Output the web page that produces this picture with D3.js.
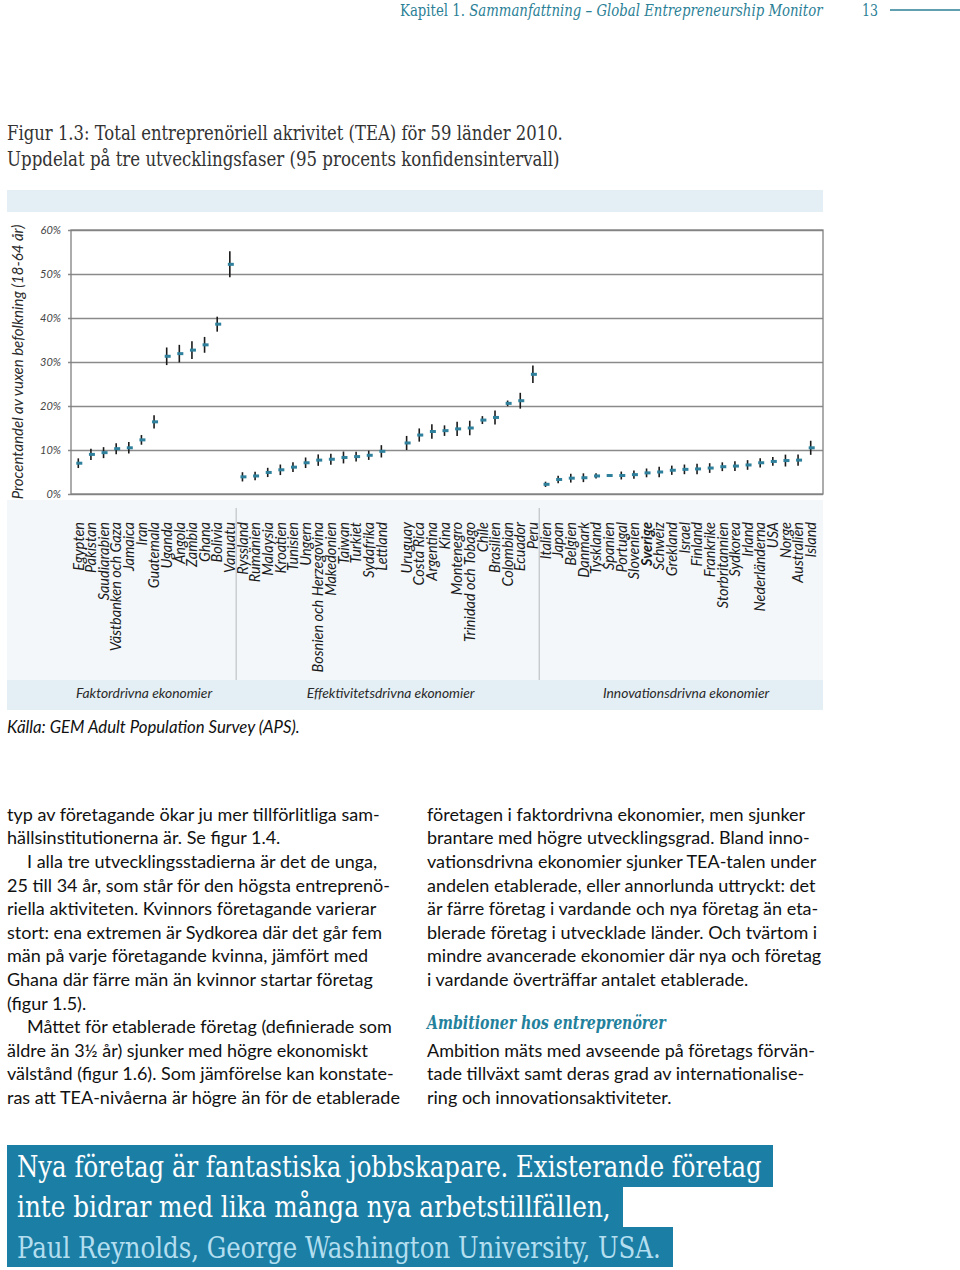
<!DOCTYPE html>
<html><head><meta charset="utf-8">
<script src="https://cdn.jsdelivr.net/npm/d3@7"></script>
<style>body{margin:0;background:#fff;} svg{display:block}</style>
</head><body>
<svg id="c" width="960" height="1270"></svg>
<script>
// ---------------- DATA ----------------
const countries = ["Egypten","Pakistan","Saudiarabien","Västbanken och Gaza","Jamaica","Iran","Guatemala","Uganda","Angola","Zambia","Ghana","Bolivia","Vanuatu",
"Ryssland","Rumänien","Malaysia","Kroatien","Tunisien","Ungern","Bosnien och Herzegovina","Makedonien","Taiwan","Turkiet","Sydafrika","Lettland","",
"Uruguay","Costa Rica","Argentina","Kina","Montenegro","Trinidad och Tobago","Chile","Brasilien","Colombian","Ecuador","Peru",
"Italien","Japan","Belgien","Danmark","Tyskland","Spanien","Portugal","Slovenien","Sverige","Schweiz","Grekland","Israel","Finland","Frankrike","Storbritannien","Sydkorea","Irland","Nederländerna","USA","Norge","Australien","Island"];
const teaValues = [7.0,9.0,9.4,10.3,10.5,12.3,16.4,31.3,31.9,32.7,33.9,38.6,52.2,
3.9,4.1,4.9,5.5,6.1,7.1,7.7,7.9,8.3,8.5,8.8,9.7,null,
11.6,13.4,14.2,14.4,14.8,15.0,16.8,17.4,20.6,21.2,27.2,
2.2,3.3,3.6,3.7,4.1,4.2,4.2,4.4,4.8,5.0,5.4,5.6,5.7,5.9,6.2,6.35,6.6,7.1,7.4,7.6,7.7,10.5];
const ciMargin = [1.1,1.3,1.25,1.25,1.3,1.1,1.5,2.0,2.0,2.0,1.8,1.7,2.95,
1.05,0.95,1.05,1.2,1.1,1.2,1.3,1.25,1.35,1.1,1.05,1.4,null,
1.6,1.5,1.65,1.2,1.6,1.65,0.9,1.6,0.65,1.8,2.0,
0.6,0.85,1.0,1.0,0.6,0.3,0.9,0.95,1.0,1.2,1.05,1.1,1.2,1.1,1.0,1.1,1.1,1.05,1.0,1.35,1.3,1.6];
const economyGroups = ["Faktordrivna ekonomier","Effektivitetsdrivna ekonomier","Innovationsdrivna ekonomier"];
const groupSizes = [13, 24, 22];
const yTicks = [0,10,20,30,40,50,60];
const highlighted = ["Sverige"];

const leftLines = [
 ["typ av företagande ökar ju mer tillförlitliga sam-",0],
 ["hällsinstitutionerna är. Se figur 1.4.",0],
 ["I alla tre utvecklingsstadierna är det de unga,",1],
 ["25 till 34 år, som står för den högsta entreprenö-",0],
 ["riella aktiviteten. Kvinnors företagande varierar",0],
 ["stort: ena extremen är Sydkorea där det går fem",0],
 ["män på varje företagande kvinna, jämfört med",0],
 ["Ghana där färre män än kvinnor startar företag",0],
 ["(figur 1.5).",0],
 ["Måttet för etablerade företag (definierade som",1],
 ["äldre än 3½ år) sjunker med högre ekonomiskt",0],
 ["välstånd (figur 1.6). Som jämförelse kan konstate-",0],
 ["ras att TEA-nivåerna är högre än för de etablerade",0]];
const rightLines1 = [
 "företagen i faktordrivna ekonomier, men sjunker",
 "brantare med högre utvecklingsgrad. Bland inno-",
 "vationsdrivna ekonomier sjunker TEA-talen under",
 "andelen etablerade, eller annorlunda uttryckt: det",
 "är färre företag i vardande och nya företag än eta-",
 "blerade företag i utvecklade länder. Och tvärtom i",
 "mindre avancerade ekonomier där nya och företag",
 "i vardande överträffar antalet etablerade."];
const rightLines2 = [
 "Ambition mäts med avseende på företags förvän-",
 "tade tillväxt samt deras grad av internationalise-",
 "ring och innovationsaktiviteter."];
const quoteLines = ["Nya företag är fantastiska jobbskapare. Existerande företag",
 "inte bidrar med lika många nya arbetstillfällen,",
 "Paul Reynolds, George Washington University, USA."];

// ---------------- SETUP ----------------
const svg = d3.select("#c");
const TEAL = "#2b7f96", BOX = "#1b7ea4";
const SLAB = "'DejaVu Serif Condensed','DejaVu Serif',serif";
const SANS = "Lato, 'Open Sans', sans-serif";

function measure(str, size, family, style, weight){
  const t = svg.append("text").attr("font-family",family).attr("font-size",size)
    .attr("font-style",style||"normal").attr("font-weight",weight||"normal").text(str);
  const w = t.node().getComputedTextLength(); t.remove(); return w;
}
function calib(strs, target, family, style, weight){
  let tot = 0; strs.forEach(s=> tot += measure(s,20,family,style,weight));
  return 20*target/tot;
}
function slab(x, y, size, width, color, parts){
  const g = svg.append("g");
  const t = g.append("text").attr("font-family",SLAB).attr("font-stretch","condensed")
    .attr("font-size",size).attr("fill",color);
  parts.forEach(p=> t.append("tspan").text(p[0]).attr("font-style",p[1]?"italic":"normal").attr("font-weight",p[2]?"bold":"normal"));
  const w = t.node().getComputedTextLength();
  g.attr("transform",`translate(${x},${y}) scale(${width/w},1)`);
  return g;
}

// ---------------- HEADER ----------------
slab(400,16,16,423,TEAL,[["Kapitel 1. ",0],["Sammanfattning – Global Entrepreneurship Monitor",1]]);
slab(862,16,16,16,TEAL,[["13",0]]);
svg.append("line").attr("x1",890).attr("x2",960).attr("y1",10).attr("y2",10).attr("stroke",TEAL).attr("stroke-width",1.3);

// ---------------- TITLE ----------------
slab(7,140,21,556,"#333",[["Figur 1.3: Total entreprenöriell akrivitet (TEA) för 59 länder 2010.",0]]);
slab(7,166,21,553,"#333",[["Uppdelat på tre utvecklingsfaser (95 procents konfidensintervall)",0]]);

// ---------------- CHART ----------------
const plot = {l:71, r:823, t:230, b:494};
svg.append("rect").attr("x",7).attr("y",190).attr("width",816).attr("height",22).attr("fill","#e4eff5");
svg.append("rect").attr("x",7).attr("y",500).attr("width",816).attr("height",180).attr("fill","#f3f7fa");
svg.append("rect").attr("x",7).attr("y",680).attr("width",816).attr("height",30).attr("fill","#e4eff5");

const y = d3.scaleLinear().domain([0,60]).range([plot.b, plot.t]);
const x = d3.scalePoint().domain(d3.range(countries.length)).range([78.3, 810.7]);

const yAxis = d3.axisLeft(y).tickValues(yTicks).tickFormat(d=>d+"%")
  .tickSize(-(plot.r-68)).tickPadding(7);
const ga = svg.append("g").attr("transform",`translate(68,0)`).call(yAxis);
ga.select(".domain").remove();
ga.selectAll(".tick line").attr("stroke","#8a8a8a").attr("stroke-width",1.3);
ga.selectAll(".tick text").attr("font-family",SANS).attr("font-style","italic")
  .attr("font-size",11).attr("fill","#444");
svg.append("rect").attr("x",plot.l).attr("y",plot.t).attr("width",plot.r-plot.l).attr("height",plot.b-plot.t)
  .attr("fill","none").attr("stroke","#808080").attr("stroke-width",1.3);

// y title
const ytSize = calib(["Procentandel av vuxen befolkning (18-64 år)"],275,SANS,"italic");
svg.append("text").attr("transform","translate(23,362) rotate(-90)").attr("text-anchor","middle")
  .attr("font-family",SANS).attr("font-style","italic").attr("font-size",ytSize).attr("fill","#2a2a2a")
  .text("Procentandel av vuxen befolkning (18-64 år)");

// data marks
const data = countries.map((c,i)=>({c,i,v:teaValues[i],m:ciMargin[i]})).filter(d=>d.v!=null);
svg.append("g").selectAll("line").data(data).join("line")
  .attr("x1",d=>x(d.i)).attr("x2",d=>x(d.i)).attr("y1",d=>y(d.v-d.m)).attr("y2",d=>y(d.v+d.m))
  .attr("stroke","#1a1a1a").attr("stroke-width",1.6);
svg.append("g").selectAll("rect").data(data).join("rect")
  .attr("x",d=>x(d.i)-2).attr("y",d=>y(d.v)-1.5).attr("width",6).attr("height",3).attr("fill","#2e809c");

// country labels
const lblSize = calib(["Bosnien och Herzegovina","Västbanken och Gaza"],280,SANS,"italic");
svg.append("g").selectAll("text").data(data).join("text")
  .attr("transform",d=>`translate(${x(d.i)},522) rotate(-90)`).attr("dy","0.36em")
  .attr("text-anchor","end").attr("font-family",SANS).attr("font-style","italic")
  .attr("font-weight",d=>highlighted.includes(d.c)?"bold":"normal")
  .attr("font-size",lblSize).attr("fill","#1a1a1a").text(d=>d.c);

// group separators + labels
let start = 0; const bounds = [];
groupSizes.forEach((n)=>{ bounds.push([start,start+n-1]); start += n; });
bounds.slice(0,-1).forEach((b)=>{
  const sx = (x(b[1])+x(b[1]+1))/2;
  svg.append("line").attr("x1",sx).attr("x2",sx).attr("y1",508).attr("y2",680)
    .attr("stroke","#b4b8bc").attr("stroke-width",1);
});
const ecoSize = calib(["Effektivitetsdrivna ekonomier"],168,SANS,"italic");
const ecoShift = [-10, 3, 8];
svg.append("g").selectAll("text").data(economyGroups).join("text")
  .attr("x",(d,gi)=>(x(bounds[gi][0])+x(bounds[gi][1]))/2 + ecoShift[gi])
  .attr("y",698).attr("text-anchor","middle").attr("font-family",SANS).attr("font-style","italic")
  .attr("font-size",ecoSize).attr("fill","#2a2a2a").text(d=>d);

// source
const srcSize = calib(["Källa: GEM Adult Population Survey (APS)."],293,SANS,"italic");
svg.append("text").attr("x",7).attr("y",733).attr("font-family",SANS).attr("font-style","italic")
  .attr("font-size",srcSize).attr("fill","#111").text("Källa: GEM Adult Population Survey (APS).");

// ---------------- BODY TEXT ----------------
const bodySize = calib(["typ av företagande ökar ju mer tillförlitliga sam-",
  "25 till 34 år, som står för den högsta entreprenö-",
  "andelen etablerade, eller annorlunda uttryckt: det"],1145,SANS);
const LH = 23.6, B0 = 820.7;
leftLines.forEach((l,i)=> svg.append("text").attr("x",7+(l[1]?20:0)).attr("y",B0+i*LH)
  .attr("font-family",SANS).attr("font-size",bodySize).attr("fill","#111").text(l[0]));
rightLines1.forEach((l,i)=> svg.append("text").attr("x",427).attr("y",B0+i*LH)
  .attr("font-family",SANS).attr("font-size",bodySize).attr("fill","#111").text(l));
rightLines2.forEach((l,i)=> svg.append("text").attr("x",427).attr("y",B0+(i+10)*LH)
  .attr("font-family",SANS).attr("font-size",bodySize).attr("fill","#111").text(l));
slab(427,1029,18,239,"#23819c",[["Ambitioner hos entreprenörer",1,1]]);

// ---------------- QUOTE ----------------
const qBoxes = [[7,1145,766,42],[7,1187,616,40],[7,1227,666,40]];
qBoxes.forEach(b=> svg.append("rect").attr("x",b[0]).attr("y",b[1]).attr("width",b[2]).attr("height",b[3]).attr("fill",BOX));
slab(17,1177,29,745,"#ffffff",[[quoteLines[0],0]]);
slab(17,1217,29,594,"#ffffff",[[quoteLines[1],0]]);
slab(17,1258,29,644,"#b3def0",[[quoteLines[2],0]]);
</script>
</body></html>
